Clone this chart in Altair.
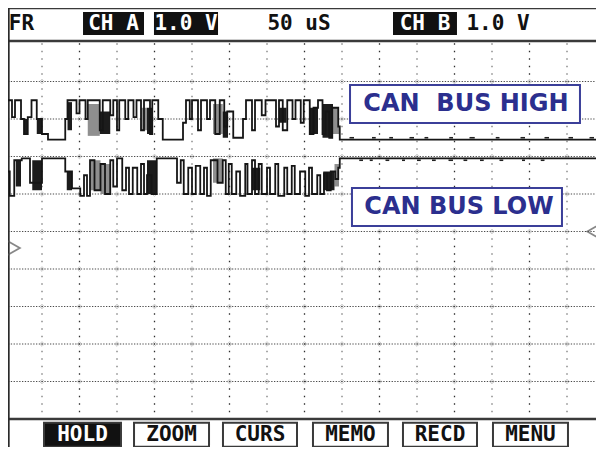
import altair as alt
import pandas as pd

# ------------------------------------------------------------------ data
# time in microseconds (50 uS per division), level in screen divisions (0 = bottom, 10 = top)
HIGH_T = [0, 10, 14, 22, 26, 31, 36, 43, 50, 58,
          81, 84, 96, 100, 108, 111, 127, 131, 141, 145,
          150, 153, 161, 165, 172, 176, 182, 186, 194, 197,
          205, 211, 238, 242, 247, 250, 258, 262, 270, 274,
          281, 287, 293, 297, 305, 318, 322, 330, 334, 343,
          348, 362, 366, 371, 377, 384, 388, 395, 399, 407,
          412, 418, 424, 428, 433, 437, 445, 447, 800]
HIGH_V = [8.5, 8.05, 8.5, 8.0, 7.6, 8.05, 8.5, 8.0, 7.6, 7.45,
          8.0, 8.5, 8.15, 8.5, 8.0, 8.5, 7.7, 8.5, 8.1, 8.5,
          7.7, 8.5, 8.0, 8.5, 8.05, 8.5, 7.7, 8.5, 7.6, 8.5,
          8.0, 7.45, 7.9, 8.5, 8.0, 8.5, 7.7, 8.5, 8.0, 8.5,
          7.6, 8.5, 7.8, 8.2, 7.5, 8.0, 8.5, 7.7, 8.5, 8.1,
          8.5, 7.8, 8.5, 7.7, 8.5, 8.0, 8.5, 7.9, 8.5, 7.6,
          8.3, 8.5, 7.6, 8.2, 7.5, 8.3, 7.8, 7.45, 7.45]

LOW_T = [0, 3, 7, 13, 23, 34, 50, 81, 90, 101,
         106, 110, 114, 120, 128, 134, 141, 145, 150, 157,
         162, 166, 171, 177, 182, 186, 190, 196, 203, 230,
         235, 239, 245, 250, 255, 261, 266, 270, 275, 284,
         291, 295, 299, 303, 309, 314, 321, 324, 330, 334,
         339, 343, 350, 354, 361, 365, 373, 377, 383, 387,
         394, 401, 406, 410, 417, 421, 426, 430, 435, 441,
         445, 447, 800]
LOW_V = [5.95, 6.6, 5.95, 6.9, 6.95, 6.3, 6.95, 6.6, 6.15, 5.95,
         6.5, 5.95, 6.9, 6.1, 6.8, 6.0, 6.9, 6.2, 6.95, 6.1,
         6.7, 6.0, 6.7, 6.0, 6.8, 6.0, 6.5, 6.0, 6.95, 6.3,
         6.9, 6.0, 6.7, 6.0, 6.75, 6.0, 6.7, 5.95, 6.9, 6.3,
         6.9, 6.0, 6.8, 6.0, 6.6, 5.95, 6.8, 6.0, 6.9, 6.0,
         6.8, 6.0, 6.7, 6.0, 6.8, 5.95, 6.7, 6.0, 6.75, 6.0,
         6.6, 5.95, 6.7, 6.0, 6.5, 6.0, 6.55, 6.1, 6.6, 6.4,
         6.7, 6.95, 6.95]

# dense-toggle regions drawn as blocks (start, end, upper, lower, shade)
HIGH_BLK_T0 = [26, 43, 84, 111, 127, 182, 190, 278, 291, 366, 407, 424, 438]
HIGH_BLK_T1 = [31, 50, 90, 127, 141, 190, 197, 291, 298, 376, 418, 438, 446]
HIGH_BLK_V0 = [8.0, 8.0, 8.45, 8.4, 8.2, 8.3, 8.3, 8.4, 8.2, 8.3, 8.3, 8.4, 8.3]
HIGH_BLK_V1 = [7.6, 7.6, 7.7, 7.55, 7.6, 7.7, 7.6, 7.6, 7.5, 7.9, 7.6, 7.5, 7.6]
HIGH_BLK_S = ["solid", "solid", "solid", "dense", "solid", "dense", "solid",
              "dense", "solid", "solid", "solid", "solid", "dense"]

LOW_BLK_T0 = [15, 37, 83, 114, 128, 190, 278, 330, 425, 440]
LOW_BLK_T1 = [22, 50, 90, 128, 141, 203, 291, 341, 440, 446]
LOW_BLK_V0 = [6.9, 6.9, 6.6, 6.9, 6.8, 6.9, 6.95, 6.7, 6.6, 6.8]
LOW_BLK_V1 = [6.2, 6.1, 6.1, 6.1, 6.0, 6.0, 6.3, 6.1, 6.1, 6.2]
LOW_BLK_S = ["solid", "solid", "solid", "dense", "dense", "solid", "dense",
             "solid", "solid", "dense"]

# small ripple on the idle (recessive) bus after the frame
HIGH_RIP_T0 = [460, 490, 513, 540, 560, 593, 620, 655, 688, 720, 752, 780]
HIGH_RIP_T1 = [466, 495, 518, 546, 565, 598, 627, 660, 694, 726, 758, 786]
LOW_RIP_T0 = [473, 487, 508, 530, 550, 570, 592, 612, 634, 660, 690, 715]
LOW_RIP_T1 = [478, 491, 513, 534, 555, 575, 598, 617, 639, 665, 694, 720]

HEADER_BOXED = ["CH A", "1.0 V", "CH B"]
HEADER_PLAIN = ["FR", "50 uS", "1.0 V"]
BUTTONS = ["HOLD", "ZOOM", "CURS", "MEMO", "RECD", "MENU"]
TRACE_LABELS = ["CAN\u00a0 BUS HIGH", "CAN BUS LOW"]

# ------------------------------------------------------------------ layout (data units)
W, H = 588, 439
PX_PER_US, PX_PER_DIV = 0.75, 37.5
T_LEFT = (8 - 4.5) / PX_PER_US
T_RIGHT = T_LEFT + W / PX_PER_US
V_TOP = 10 + (44 - 8) / PX_PER_DIV
V_BOT = V_TOP - H / PX_PER_DIV

HEADER_BOX_T0 = [104.7, 199.3, 518.0]
HEADER_BOX_T1 = [186.0, 284.7, 603.3]
HEADER_PLAIN_T = [22.5, 392.7, 658.0]
HEADER_BOX_V = (10.853, 10.24)
HEADER_TEXT_V = 10.53

BUTTON_T0 = [52.7, 172.7, 291.3, 411.3, 531.3, 651.3]
BUTTON_T1 = [155.3, 272.7, 390.0, 511.3, 630.0, 751.3]
BUTTON_V = (-0.10, -0.74)
BUTTON_TEXT_V = -0.43

LABEL_T0 = [460.7, 463.3]
LABEL_T1 = [767.3, 743.3]
LABEL_V0 = [8.907, 6.16]
LABEL_V1 = [7.893, 5.147]
LABEL_TT = [615.3, 606.0]
LABEL_TV = [8.40, 5.653]

xs = alt.Scale(domain=[T_LEFT, T_RIGHT], nice=False, zero=False)
ys = alt.Scale(domain=[V_BOT, V_TOP], nice=False, zero=False)


def X(f):
    return alt.X(f, type="quantitative", scale=xs, axis=None)


def Y(f):
    return alt.Y(f, type="quantitative", scale=ys, axis=None)


layers = []

# ---- grid
vt = [50 * k for k in range(1, 16)]
vlight = pd.DataFrame({"t": [t for i, t in enumerate(vt) if i % 2 == 0], "v0": 10.08, "v1": 0.0})
vdark = pd.DataFrame({"t": [t for i, t in enumerate(vt) if i % 2 == 1], "v0": 10.08, "v1": 0.0})
for df, col in ((vlight, "#7a7a7a"), (vdark, "#2e2e2e")):
    layers.append(alt.Chart(df).mark_rule(strokeDash=[1.6, 5.9], strokeDashOffset=5.3,
                                          strokeWidth=1.3, color=col)
                  .encode(x=X("t"), y=Y("v0"), y2=alt.Y2("v1")))
hgrid = pd.DataFrame({"v": list(range(1, 10)), "t0": T_LEFT, "t1": T_RIGHT})
layers.append(alt.Chart(hgrid).mark_rule(strokeDash=[1.3, 1.5], strokeWidth=1.1, color="#4a4a4a")
              .encode(y=Y("v"), x=X("t0"), x2=alt.X2("t1")))
cross = pd.DataFrame([(t, v) for t in vt for v in range(1, 10)], columns=["t", "v"])
layers.append(alt.Chart(cross).mark_point(shape="diamond", size=22, filled=False, color="#aaaaaa",
                                          strokeWidth=0.9)
              .encode(x=X("t"), y=Y("v")))

# ---- frame lines
thick = pd.DataFrame({"v": [10.08, 0.0], "t0": T_LEFT, "t1": T_RIGHT})
layers.append(alt.Chart(thick).mark_rule(color="#3a3a3a", strokeWidth=2.5)
              .encode(y=Y("v"), x=X("t0"), x2=alt.X2("t1")))
thin = pd.DataFrame({"v": [V_TOP - 0.015], "t0": T_LEFT, "t1": T_RIGHT})
layers.append(alt.Chart(thin).mark_rule(color="#3a3a3a", strokeWidth=1.5)
              .encode(y=Y("v"), x=X("t0"), x2=alt.X2("t1")))
vframe = pd.DataFrame({"t": [T_LEFT + 0.9], "v0": V_TOP, "v1": V_BOT})
layers.append(alt.Chart(vframe).mark_rule(color="#2a2a2a", strokeWidth=2)
              .encode(x=X("t"), y=Y("v0"), y2=alt.Y2("v1")))

# ---- dense blocks
blk = pd.concat([
    pd.DataFrame({"t0": HIGH_BLK_T0, "t1": HIGH_BLK_T1, "v0": HIGH_BLK_V0, "v1": HIGH_BLK_V1, "s": HIGH_BLK_S}),
    pd.DataFrame({"t0": LOW_BLK_T0, "t1": LOW_BLK_T1, "v0": LOW_BLK_V0, "v1": LOW_BLK_V1, "s": LOW_BLK_S}),
])
for shade, col in (("dense", "#8f8f8f"), ("solid", "#1c1c1c")):
    layers.append(alt.Chart(blk[blk["s"] == shade]).mark_rect(clip=True, color=col)
                  .encode(x=X("t0"), x2=alt.X2("t1"), y=Y("v0"), y2=alt.Y2("v1")))

# ---- traces
for tt, vv in ((HIGH_T, HIGH_V), (LOW_T, LOW_V)):
    layers.append(alt.Chart(pd.DataFrame({"t": tt, "v": vv}))
                  .mark_line(interpolate="step-after", clip=True, color="#151515", strokeWidth=1.8)
                  .encode(x=X("t"), y=Y("v")))

rip = pd.concat([
    pd.DataFrame({"t0": HIGH_RIP_T0, "t1": HIGH_RIP_T1, "v": 7.50}),
    pd.DataFrame({"t0": LOW_RIP_T0, "t1": LOW_RIP_T1, "v": 6.90}),
])
layers.append(alt.Chart(rip).mark_rule(color="#222222", strokeWidth=1.6, clip=True)
              .encode(x=X("t0"), x2=alt.X2("t1"), y=Y("v")))

# ---- trace labels
lab = pd.DataFrame({"t0": LABEL_T0, "t1": LABEL_T1, "v0": LABEL_V0, "v1": LABEL_V1,
                    "tt": LABEL_TT, "tv": LABEL_TV, "txt": TRACE_LABELS})
layers.append(alt.Chart(lab).mark_rect(fill="white", stroke="#3b3f99", strokeWidth=2)
              .encode(x=X("t0"), x2=alt.X2("t1"), y=Y("v0"), y2=alt.Y2("v1")))
layers.append(alt.Chart(lab).mark_text(font="DejaVu Sans", fontWeight="bold", fontSize=24,
                                       color="#2b2f8e", align="center", baseline="middle")
              .encode(x=X("tt"), y=Y("tv"), text="txt:N"))

# ---- header
hb = pd.DataFrame({"t0": HEADER_BOX_T0, "t1": HEADER_BOX_T1, "txt": HEADER_BOXED,
                   "v0": HEADER_BOX_V[0], "v1": HEADER_BOX_V[1], "tv": HEADER_TEXT_V})
hb["tc"] = (hb["t0"] + hb["t1"]) / 2
layers.append(alt.Chart(hb).mark_rect(color="#111111")
              .encode(x=X("t0"), x2=alt.X2("t1"), y=Y("v0"), y2=alt.Y2("v1")))
layers.append(alt.Chart(hb).mark_text(font="DejaVu Sans Mono", fontWeight="bold", fontSize=21,
                                      color="white", align="center", baseline="middle")
              .encode(x=X("tc"), y=Y("tv"), text="txt:N"))
hp = pd.DataFrame({"t": HEADER_PLAIN_T, "txt": HEADER_PLAIN, "tv": HEADER_TEXT_V})
layers.append(alt.Chart(hp).mark_text(font="DejaVu Sans Mono", fontWeight="bold", fontSize=21,
                                      color="#111111", align="center", baseline="middle")
              .encode(x=X("t"), y=Y("tv"), text="txt:N"))

# ---- buttons
bt = pd.DataFrame({"t0": BUTTON_T0, "t1": BUTTON_T1, "txt": BUTTONS,
                   "v0": BUTTON_V[0], "v1": BUTTON_V[1], "tv": BUTTON_TEXT_V})
bt["tc"] = (bt["t0"] + bt["t1"]) / 2
on, off = bt.iloc[:1], bt.iloc[1:]
layers.append(alt.Chart(on).mark_rect(fill="#111111", stroke="#3a3a3a", strokeWidth=2)
              .encode(x=X("t0"), x2=alt.X2("t1"), y=Y("v0"), y2=alt.Y2("v1")))
layers.append(alt.Chart(off).mark_rect(fill="#ffffff", stroke="#3a3a3a", strokeWidth=2)
              .encode(x=X("t0"), x2=alt.X2("t1"), y=Y("v0"), y2=alt.Y2("v1")))
for df, col in ((on, "#ffffff"), (off, "#111111")):
    layers.append(alt.Chart(df).mark_text(font="DejaVu Sans Mono", fontWeight="bold", fontSize=21,
                                          align="center", baseline="middle", color=col)
                  .encode(x=X("tc"), y=Y("tv"), text="txt:N"))

# ---- trigger / level markers
layers.append(alt.Chart(pd.DataFrame({"t": [11.5], "v": [4.56]}))
              .mark_point(shape="triangle-right", filled=False, size=240, strokeWidth=1.8, color="#555555")
              .encode(x=X("t"), y=Y("v")))
layers.append(alt.Chart(pd.DataFrame({"t": [786.0], "v": [5.0]}))
              .mark_point(shape="triangle-left", filled=False, size=240, strokeWidth=1.8, color="#555555")
              .encode(x=X("t"), y=Y("v")))

chart = alt.layer(*layers).properties(
    width=W, height=H, padding=0,
    autosize=alt.AutoSizeParams(type="none"),
    background="white",
).configure_view(strokeWidth=0)

chart.save("out.html", embed_options={"renderer": "svg", "actions": False})
